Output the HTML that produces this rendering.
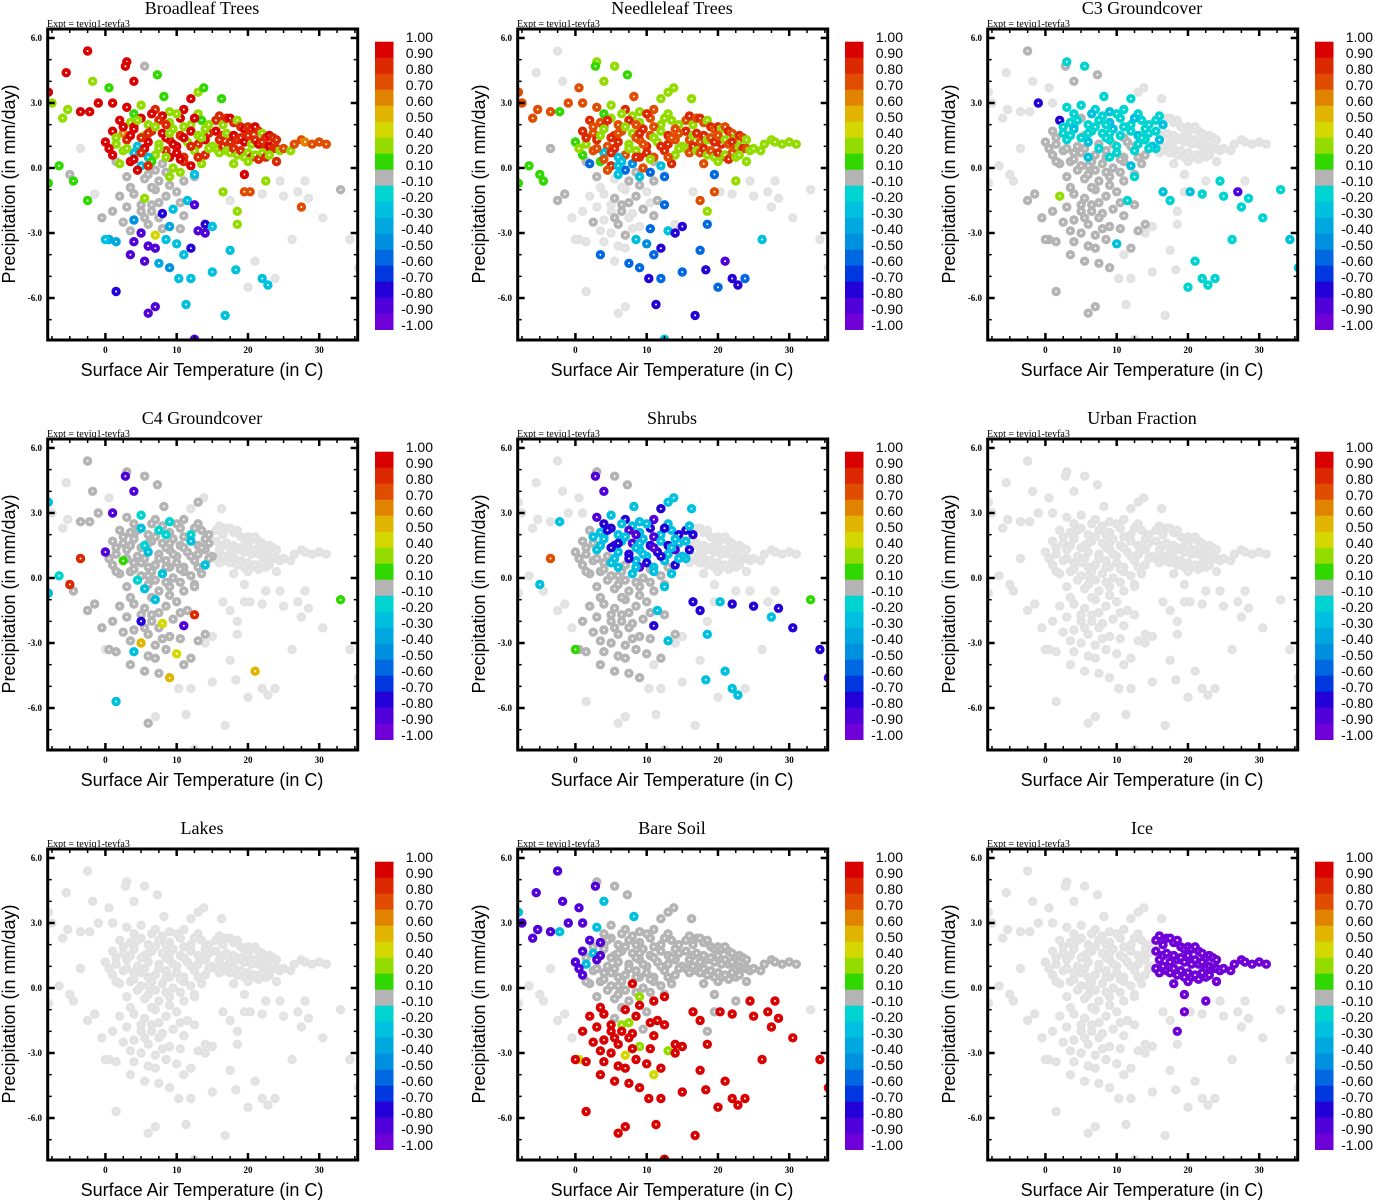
<!DOCTYPE html>
<html><head><meta charset="utf-8"><title>Correlation scatter panels</title>
<style>
html,body{margin:0;padding:0;background:#fff;}
svg{display:block;}
</style></head>
<body>
<svg id="fig" width="1373" height="1200" viewBox="0 0 1373 1200" xmlns="http://www.w3.org/2000/svg"></svg>
<script>
const N = null;
// base cloud of points: [temperature C, precipitation mm/day]
const cloudPoints = [
// A warm core
[15.5,2.2],[16,2.4],[16.5,2.0],[17,2.3],[17.5,2.3],[18,2.1],[18.5,2.2],[19,1.9],[19.5,1.8],[20,1.9],[20.5,1.8],[21,1.9],[21.5,1.7],[22,1.6],[22.5,1.4],[23,1.5],[23.5,1.4],[24,1.3],
[15.5,1.7],[16,1.3],[16.5,1.5],[17,1.6],[17.5,1.2],[18,1.5],[18.5,1.3],[19,1.4],[19.5,1.2],[20,1.5],[20.5,1.1],[21,1.3],[21.5,1.1],[22,1.2],[22.5,0.9],[23,1.0],[23.5,0.9],
[15.5,0.9],[16,0.7],[16.5,1.0],[17,0.8],[17.5,0.7],[18,0.9],[18.5,0.6],[19,0.8],[19.5,0.5],[20,0.7],[20.5,0.5],[21,0.6],[21.5,0.4],[22,0.7],[22.5,0.5],[23,0.6],
[24,0.9],[24.5,0.8],[25,0.9],[26,0.8],[26.5,1.1],[27.5,1.3],[28,1.2],[29,1.1],[30,1.2],[31,1.1],
[24,0.3],[19.5,-0.3],[22.5,-0.6],[19.5,-1.1],[18.5,-2.0],[18,0.2],[20,0.3],
// B mid core
[3,2.8],[5,2.9],[7,2.7],[9,2.6],[11,2.7],[13,2.5],[4,2.5],[8,2.4],
[2,2.2],[3.5,2.1],[5,2.3],[6,2.0],[7.5,2.2],[9,2.1],[10.5,2.3],[12,2.0],[13.5,2.2],[14.5,2.0],[4,1.9],[11,1.9],
[1,1.7],[2.5,1.6],[4,1.8],[5.5,1.5],[6.5,1.7],[8,1.6],[9.5,1.8],[10.5,1.5],[12,1.7],[13,1.5],[14.5,1.6],[7,1.9],
[0,1.2],[1.5,1.1],[3,1.3],[4.5,1.0],[6,1.2],[7.5,1.1],[9,1.3],[10,1.0],[11.5,1.2],[13,1.1],[14,1.3],[15,1.0],[5,1.4],[8.5,1.4],
[1,0.6],[2.5,0.8],[4,0.7],[5.5,0.9],[7,0.6],[8.5,0.8],[10,0.7],[11,0.5],[12.5,0.8],[14,0.6],[6,0.5],[9,0.5],
[2,0.2],[3.5,0.3],[5,0.1],[6.5,0.3],[8,0.2],[9.5,0.0],[11,0.3],[12,0.1],[13.5,0.2],[4.5,-0.1],[7,-0.1],[10.5,-0.2],
[3,-0.4],[5.5,-0.5],[7.5,-0.6],[9,-0.4],[11,-0.6],[12.5,-0.3],[6,-0.3],[8.5,-0.2],
// C tail
[4,-1.2],[5.5,-1.4],[7,-1.0],[8.5,-1.3],[10,-1.1],[11.5,-1.5],[3,-1.8],[5,-2.0],[6.5,-1.7],[8,-2.1],[9.5,-1.9],[11,-2.2],[4,-2.4],[6,-2.6],[7.5,-2.3],[9,-2.7],[2.5,-2.5],
[5,-3.0],[7,-3.1],[8.5,-3.3],[4,-3.4],[6,-3.6],[10,-3.5],[3.5,-4.0],[5.5,-4.3],[7.5,-4.4],[9,-4.6],[12,-3.7],[13,-2.9],[14,-2.6],[1,-2.0],[2,-1.3],[12.5,-1.7],[0.5,-3.3],[1.5,-3.4],
// D outliers
[-2.5,5.4],[-5.5,4.4],[3,4.9],[2.8,4.7],[5.5,4.7],[4,4.0],[7.3,4.3],[-1.8,4.0],[0.5,3.7],[8.2,3.3],[12,3.2],[13,3.5],[13.8,3.7],[16.3,3.2],[-8,3.5],[-7.5,3.0],[-5.3,2.7],[-3.5,2.6],[-2.2,2.6],[-6,2.3],[-1,3.0],[1,3.0],
[-3.5,0.9],[-6.5,0.1],[-5,-0.3],[-8,-0.7],[-4.5,-0.6],[-2.5,-1.5],[-1.5,-1.2],[-0.5,-2.3],[0,-3.3],[1.5,-5.7],[6,-6.7],[7,-6.4],[11.3,-6.3],[12.5,-7.9],[16.8,-6.8],[10.3,-5.1],[12,-5.1],[15,-4.8],[17.5,-3.8],[18.3,-4.7],
[21,-4.3],[22,-5.1],[22.8,-5.4],[20,-5.5],[23.8,-5.1],[26.2,-3.3],[28.5,-1.4],[30.5,-2.3],[33,-1.0],[34.3,-3.3],[35.5,-4.6],[27.5,-1.8],[25,-1.3],[22,-1.2],[27,-1.1],[16.5,-1.1],[17.5,-1.5],[18.5,-2.6],[15,-2.7],[14,-3.0],[28,-0.6],[24.5,-0.6],[20.3,-1.1],[11,-4.0],[12.5,-0.4]
];
// extra dense-core points
const extraPoints = [[2.5,1.9],[4.5,2.2],[6.5,2.5],[8.5,2.0],[10,2.5],[12.5,2.3],[14,1.8],[1.5,1.4],[3.5,1.5],[6,1.6],[9,1.6],[11,1.4],[13.5,1.4],[0.5,0.9],[3,0.9],[5,0.7],[7.5,0.9],[9.5,1.1],[12,1.0],[14.5,0.9],[1.5,0.3],[4,0.4],[6,0.1],[8.5,0.5],[10.5,0.4],[13,0.5],[3.5,-0.9],[6.5,-0.9],[9,-0.8],[5,-1.7],[7.5,-1.6],[10.5,-1.6],[6.5,-2.0],[8,-2.8],[5.5,-2.3],[3.5,-2.9],[7,-3.7],[10.5,-2.8]];

// correlation values in tenths per point (null = not significant)
const broadleafVals = [8,8,2,8,9,8,2,8,9,8,8,9,8,2,8,9,8,8, 9,8,8,2,8,9,8,8,9,8,2,8,9,8,8,9,8, 2,2,8,2,3,8,2,8,2,3,8,2,8,2,8,3, 8,2,7,2,7,7,6,7,7,7, 8,9,2,7,2,2,2,
9,2,8,2,9,2,1,9, 9,2,9,2,8,2,9,2,1,2,9,2, 9,6,9,2,8,9,2,8,9,2,8,2, 9,2,8,-3,9,2,8,9,2,8,9,2,8,9, 9,2,-3,9,2,8,9,8,2,8,-3,9, 2,9,-3,1,0,2,8,9,2,9,0,2, 0,0,0,2,0,-3,0,0,
0,2,0,0,0,-3,0,0,0,-8,-3,0,-5,0,0,-4,0, -9,4,-3,-9,-9,-3,-9,-9,-4,-5,-8,-9,-8,0,0,-9,-4,-4,
9,9,9,9,0,9,1,2,1,1,9,2,1,1,9,2,2,9,9,2,9,9, N,1,0,1,1,1,N,0,-3,-8,-9,-9,-3,-9,-3,-3,-3,-3,-3,-3,
N,-3,-3,N,N,N,N,N,0,N,N,7,N,N,N,2,N,2,-3,-9,N,N,7,-3,0];
const needleleafVals = [7,8,2,7,8,7,2,8,7,8,2,7,8,7,2,8,7,2, 8,7,2,8,7,8,2,7,8,7,8,2,7,8,7,2,8, 2,7,8,2,7,8,2,7,2,8,7,2,8,7,2,2, 7,2,2,2,2,2,2,2,2,2, 2,-6,2,7,2,7,2,
7,2,8,2,7,2,1,2, 8,7,2,7,8,2,7,2,2,2,8,7, 8,7,2,8,7,2,8,7,2,8,7,2, 1,2,8,7,8,2,7,8,2,8,7,2,8,7, 1,7,-3,8,7,2,8,7,8,2,-3,8, -6,1,8,-3,-5,7,0,-3,8,7,-6,-6, 0,N,0,-3,0,N,-3,0,
N,0,N,0,N,0,N,N,0,N,0,0,N,0,N,N,0, N,0,-3,N,N,-5,-6,N,-6,-6,-8,-3,N,N,N,-6,N,N,
N,N,2,1,2,2,1,N,7,7,2,2,2,2,7,7,7,7,1,7,7,7, 0,1,1,1,1,0,0,N,N,N,N,N,-8,-3,-8,-8,-6,-6,-6,-8,
-9,-8,-8,-6,-6,-3,N,N,N,N,N,N,N,N,N,N,7,-6,-8,-8,N,N,N,-6,-6];
const c3Vals = [-2,-2,-3,N,N,N,N,N,N,N,N,N,N,N,N,N,N,N, -2,-3,N,N,N,N,N,N,N,N,N,N,N,N,N,N,N, -2,N,N,N,N,N,N,N,N,N,N,N,N,N,N,N, N,N,N,N,N,N,N,N,N,N, N,N,N,N,N,N,N,
-2,-2,-2,-3,-2,-2,-2,-2, -8,-2,0,-2,-2,-3,-2,-2,-2,-2,-2,-2, 0,-2,-3,0,-2,-2,-3,-2,-2,-3,-2,-2, 0,0,-2,0,-3,0,-2,-2,0,-2,-2,-3,-2,-2, 0,0,0,0,0,0,-2,0,-2,0,-3,-2, 0,0,0,0,0,0,0,-3,0,0,0,0, 0,0,0,0,0,0,0,0,
0,0,0,0,0,-2,0,0,0,0,0,0,0,0,0,0,0, 0,0,0,0,0,-3,0,0,0,0,0,0,0,0,2,0,0,0,
0,N,-2,0,-2,0,0,N,N,-2,-2,N,N,N,N,N,N,N,N,N,-8,N, N,N,N,N,N,0,0,0,0,0,0,0,N,N,N,N,N,N,N,N,
-2,-2,-2,-2,-2,-2,-2,-2,-2,-3,-3,-2,-2,-2,-9,-3,-2,N,N,N,N,-2,-3,N,-2];
const c4Vals = [N,N,N,N,N,N,N,N,N,N,N,N,N,N,N,N,N,N, N,N,N,N,N,N,N,N,N,N,N,N,N,N,N,N,N, N,N,N,N,N,N,N,N,N,N,N,N,N,N,N,N, N,N,N,N,N,N,N,N,N,N, N,N,N,N,N,N,N,
0,-2,0,-2,0,0,0,0, 0,0,-3,0,-2,0,0,-2,0,0,0,0, 0,0,0,-2,0,0,0,0,-3,0,0,0, -9,0,0,0,-3,0,0,0,0,0,0,0,0,0, 0,1,0,0,0,0,0,0,0,-3,0,0, 0,0,0,0,-3,0,0,0,0,-2,0,0, 0,-3,0,0,0,0,0,0,
0,0,-3,0,0,0,0,-8,0,4,0,-9,0,0,0,0,0, 5,0,0,-3,0,4,0,0,0,5,0,0,0,0,0,8,0,0,
0,N,0,-9,0,-9,0,0,N,0,N,0,N,N,-3,N,N,0,0,N,0,-9, 8,-2,8,-3,0,0,0,0,N,-3,0,N,N,N,N,N,N,N,N,N,
5,N,N,N,N,N,N,N,1,N,N,N,N,N,N,N,N,N,N,N,N,N,N,0,0];
const shrubsVals = [-8,-3,-8,N,N,N,N,N,N,N,N,N,N,N,N,N,N,N, -3,-8,N,N,N,N,N,N,N,N,N,N,N,N,N,N,N, -3,N,N,N,N,N,N,N,N,N,N,N,N,N,N,N, N,N,N,N,N,N,N,N,N,N, N,N,N,N,N,N,N,
-9,-3,-8,-3,-9,-3,-8,-3, 0,-3,-8,-3,-9,-3,-8,-3,-3,-8,-3,-9, 0,0,-3,-8,-3,-9,-3,-8,-3,-8,-3,-3, 0,0,-3,0,-3,-8,-3,-3,-8,-3,-9,-3,-8,-3, 0,0,0,-3,0,-3,-8,-3,-3,-8,-3,-9, 0,0,0,0,-3,0,-3,0,-3,0,0,0, 0,0,0,0,0,0,0,0,
0,0,0,0,0,-3,0,0,0,0,0,-8,0,0,0,0,0, 0,0,0,0,0,0,0,0,0,0,0,-3,0,0,0,0,0,0,
N,N,0,-9,0,-9,0,N,N,-3,-8,-3,-3,-3,N,N,N,N,-3,N,N,N, 7,N,-3,N,N,N,N,N,1,N,N,N,N,N,N,N,N,N,N,-3,
-3,-3,-3,N,N,N,-8,-8,1,-8,-9,-3,-8,-8,N,-8,-8,-3,N,N,N,N,-3,N,-3];
const urbanVals = [];
const lakesVals = [];
const bareSoilVals = [0,0,0,0,0,0,0,0,0,0,0,0,0,0,0,0,0,0, 0,0,0,0,0,0,0,0,0,0,0,0,0,0,0,0,0, 0,0,0,0,0,0,0,0,0,0,0,0,0,0,0,0, 0,0,0,0,0,0,0,0,0,0, 0,0,0,0,0,0,0,
-3,0,0,0,0,0,0,0, -9,-9,0,0,0,0,0,0,0,0,0,0, -9,-3,0,0,0,0,0,0,0,0,0,0, -9,-3,-9,0,0,0,0,0,0,0,0,0,0,0, -9,0,0,0,0,0,0,0,0,0,0,0, 0,0,0,0,9,0,0,0,0,0,0,0, 0,0,0,2,9,0,0,0,
9,0,9,9,0,9,9,9,2,9,0,9,9,9,9,2,9, 9,4,9,9,9,9,9,9,9,9,9,2,9,9,9,9,4,9,
-9,-9,0,-9,0,-3,0,-9,-9,-3,0,0,0,0,-3,-9,-9,-9,-3,-9,-9,-9, N,N,N,N,N,N,N,N,9,9,9,9,9,9,9,9,9,9,9,9,
9,9,9,9,9,9,9,9,N,9,9,9,9,9,9,9,9,9,9,9,9,9,9,4,9];
const iceVals = [-10,-10,-10,-10,-10,-10,-10,-10,-10,-10,-10,-10,-10,-10,-10,-10,-10,-10,
-10,-10,-10,-10,-10,-10,-10,-10,-10,-10,-10,-10,-10,-10,-10,-10,-10,
-10,-10,-10,-10,-10,-10,-10,-10,-10,-10,-10,-10,-10,-10,-10,-10,
-10,-10,-10,-10,-10,-10,-10,-10,-10,-10, -10,-10,-10,-10,-10,-10,-10];

// values for extraPoints per panel
const broadleafExtra = [9,2,9,8,2,9,2,2,9,8,2,9,2,9,2,8,2,9,8,2,0,9,8,2,9,8,0,0,0,0,0,0,0,0,0,0,-9,0];
const needleleafExtra = [7,8,2,7,8,2,7,8,2,7,8,2,7,2,7,8,2,7,8,2,0,7,-3,8,2,7,N,N,0,N,0,N,0,N,0,N,N,-6];
const c3Extra = [-2,-2,-3,-2,-2,-3,-2,0,-2,-2,-2,0,-2,0,0,0,-2,0,0,-2,0,0,0,0,0,0,0,0,0,0,0,0,0,0,0,0,0,0];
const c4Extra = [0,0,0,-2,0,0,0,0,0,0,0,0,0,0,0,0,0,0,0,0,0,0,0,0,0,0,0,0,0,0,0,0,0,0,0,0,0,0];
const shrubsExtra = [-3,-8,-3,-9,-3,-8,-3,0,-3,-8,-3,-9,-3,0,0,-3,-8,-3,-8,-3,0,0,0,-3,0,0,0,0,0,0,0,0,0,0,0,0,0,0];
const bareSoilExtra = [0,0,0,0,0,0,0,0,-9,0,0,0,0,-9,0,0,0,0,0,0,0,0,0,0,0,0,9,0,9,9,2,9,9,9,9,9,9,9];

const panelTitles = ["Broadleaf Trees","Needleleaf Trees","C3 Groundcover","C4 Groundcover","Shrubs","Urban Fraction","Lakes","Bare Soil","Ice"];
const panelValues = [broadleafVals,needleleafVals,c3Vals,c4Vals,shrubsVals,urbanVals,lakesVals,bareSoilVals,iceVals];
const panelExtra = [broadleafExtra,needleleafExtra,c3Extra,c4Extra,shrubsExtra,[],[],bareSoilExtra,[]];
const xTicks = [0,10,20,30];
const yTicks = [-6,-3,0,3,6];
const yTickLabels = ["-6.0","-3.0","0.0","3.0","6.0"];
const cbarLabels = ["1.00","0.90","0.80","0.70","0.60","0.50","0.40","0.20","0.10","-0.10","-0.20","-0.30","-0.40","-0.50","-0.60","-0.70","-0.80","-0.90","-1.00"];
const cbarColors = ["#d80000","#dc2800","#e04c00","#e08400","#e0b400","#d4d800","#94dc00","#30d800","#b4b4b4","#00d4d0","#00c0e0","#00a8e0","#0090e0","#0068e0","#0038e0","#2400d8","#5000d8","#7000d8"];

const NS = "http://www.w3.org/2000/svg";
const svg = document.getElementById("fig");
function mk(tag, attrs, parent){
  const e = document.createElementNS(NS, tag);
  for (const k in attrs) e.setAttribute(k, attrs[k]);
  (parent||svg).appendChild(e);
  return e;
}
const X0 = 47.7, X1 = 357.7, Y0 = 29, Y1 = 340;
const TMIN = -8.1, TMAX = 35.4;
function sx(t){ return X0 + (t - TMIN) * (X1 - X0) / (TMAX - TMIN); }
function sy(p){ return 168 - p * 21.67; }
function colorIndex(v){
  if (v >= 9) return 0;
  if (v > 0) return ({8:1,7:2,6:3,5:4,4:5,3:6,2:6,1:7})[Math.round(v)];
  if (v === 0) return 8;
  const a = Math.round(-v);
  if (a <= 2) return 9;
  return Math.min(17, a + 7);
}

const defs = mk("defs", {});
const clip = mk("clipPath", {id:"plotclip"}, defs);
mk("rect", {x:X0, y:Y0, width:X1-X0, height:Y1-Y0}, clip);

panelTitles.forEach((title, i) => {
  const ox = (i % 3) * 470, oy = Math.floor(i / 3) * 410;
  const g = mk("g", {transform:`translate(${ox},${oy})`});
  
  

  const t = mk("text", {x:202, y:14, "text-anchor":"middle", "font-family":"Liberation Serif, serif", "font-size":"18"}, g);
  t.textContent = title;
  
  

  const ex = mk("text", {x:47, y:27, "font-family":"Liberation Serif, serif", "font-size":"10"}, g);
  ex.textContent = "Expt = teyiq1-teyfa3";
  
  

  // points
  const pg = mk("g", {"clip-path":"url(#plotclip)"}, g);
  
  
  const vals = panelValues[i];
  const xvals = panelExtra[i];
  const layers = [[],[],[]];
  function place(pt, v){
    if (v === null || v === undefined) layers[0].push([pt, v]);
    else if (v === 0) layers[1].push([pt, v]);
    else layers[2].push([pt, v]);
  }
  cloudPoints.forEach((pt, k) => place(pt, k < vals.length ? vals[k] : null));
  extraPoints.forEach((pt, k) => place(pt, k < xvals.length ? xvals[k] : null));
  layers.forEach((layer, li) => {
    layer.forEach(([pt, v]) => {
      const cx = sx(pt[0]), cy = sy(pt[1]);
      const col = (li === 0) ? "#e2e2e2" : cbarColors[colorIndex(v)];
      const c = mk("circle", {cx:cx.toFixed(1), cy:cy.toFixed(1), r:4.7, fill:col}, pg);
      
      
      mk("circle", {cx:cx.toFixed(1), cy:cy.toFixed(1), r:1.0, fill: li === 0 ? "#ececec" : "#ffffff"}, pg);
    });
  });

  // frame
  const fr = mk("rect", {x:X0, y:Y0, width:X1-X0, height:Y1-Y0, fill:"none", stroke:"#000", "stroke-width":3}, g);
  
  

  // ticks
  for (let tt = -7.5; tt <= 35; tt += 2.5) {
    const x = sx(tt);
    if (x < X0 + 2 || x > X1 - 2) continue;
    const major = xTicks.indexOf(tt) >= 0;
    const L = major ? 7 : 4;
    mk("line", {x1:x, x2:x, y1:Y1, y2:Y1-L, stroke:"#000", "stroke-width":major?2.5:1.5}, g);
    mk("line", {x1:x, x2:x, y1:Y0, y2:Y0+L, stroke:"#000", "stroke-width":major?2.5:1.5}, g);
  }
  for (let pp = -7; pp <= 6; pp += 1) {
    const y = sy(pp);
    const major = yTicks.indexOf(pp) >= 0;
    const L = major ? 7 : 4;
    mk("line", {x1:X0, x2:X0+L, y1:y, y2:y, stroke:"#000", "stroke-width":major?2.5:1.5}, g);
    mk("line", {x1:X1, x2:X1-L, y1:y, y2:y, stroke:"#000", "stroke-width":major?2.5:1.5}, g);
  }
  xTicks.forEach(v => {
    const tl = mk("text", {x:sx(v), y:353, "text-anchor":"middle", "font-family":"Liberation Serif, serif", "font-size":"9", "font-weight":"bold"}, g);
    tl.textContent = String(v);
    
    
  });
  yTicks.forEach((v, j) => {
    const tl = mk("text", {x:42, y:sy(v)+3, "text-anchor":"end", "font-family":"Liberation Serif, serif", "font-size":"9", "font-weight":"bold"}, g);
    tl.textContent = yTickLabels[j];
    
    
  });

  const xt = mk("text", {x:202, y:376, "text-anchor":"middle", "font-family":"Liberation Sans, sans-serif", "font-size":"18"}, g);
  xt.textContent = "Surface Air Temperature (in C)";
  
  

  const yt = mk("text", {x:0, y:0, "text-anchor":"middle", "font-family":"Liberation Sans, sans-serif", "font-size":"18", transform:"translate(15,184) rotate(-90)"}, g);
  yt.textContent = "Precipitation (in mm/day)";
  
  

  // colorbar
  const cb = mk("g", {}, g);
  
  
  cbarColors.forEach((c, j) => {
    const r = mk("rect", {x:375, y:41.7 + j*16, width:18.5, height:16.3, fill:c}, cb);
    
    
  });
  cbarLabels.forEach((lab, j) => {
    const tl = mk("text", {x:433, y:42 + j*16, "text-anchor":"end", "font-family":"Liberation Sans, sans-serif", "font-size":"14"}, cb);
    tl.textContent = lab;
    
    
  });
});
</script>
</body></html>
